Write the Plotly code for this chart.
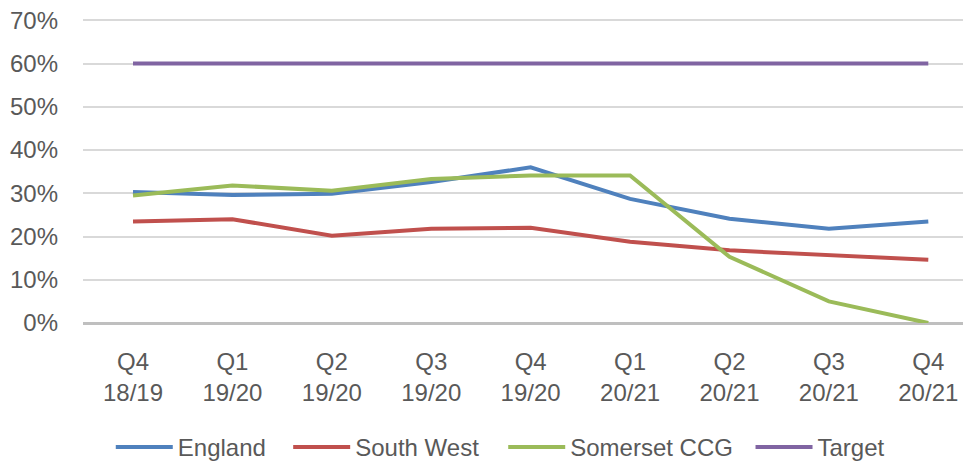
import plotly.graph_objects as go

categories = ["Q4<br>18/19", "Q1<br>19/20", "Q2<br>19/20", "Q3<br>19/20", "Q4<br>19/20",
              "Q1<br>20/21", "Q2<br>20/21", "Q3<br>20/21", "Q4<br>20/21"]
england = [0.303, 0.296, 0.299, 0.326, 0.360, 0.287, 0.241, 0.218, 0.235]
south_west = [0.235, 0.240, 0.202, 0.218, 0.220, 0.188, 0.168, 0.156, 0.146]
somerset = [0.295, 0.318, 0.306, 0.333, 0.341, 0.341, 0.153, 0.050, 0.000]
target = [0.60] * 9
y_ticks = [0, 0.1, 0.2, 0.3, 0.4, 0.5, 0.6, 0.7]

series = [
    ("England", england, "#4F81BD"),
    ("South West", south_west, "#C0504D"),
    ("Somerset CCG", somerset, "#9BBB59"),
    ("Target", target, "#8064A2"),
]
legend_x = [0.031, 0.229, 0.469, 0.745]

x = list(range(len(categories)))
fig = go.Figure()
font = dict(family="Liberation Sans, Arial, sans-serif", size=24, color="#595959")
legend_layout = {}
for i, (name, vals, color) in enumerate(series):
    key = "legend" if i == 0 else f"legend{i+1}"
    fig.add_trace(go.Scatter(x=x, y=vals, name=name, mode="lines", legend=key,
                             line=dict(color=color, width=4)))
    legend_layout[key] = dict(orientation="h", x=legend_x[i], xanchor="left",
                              y=-0.405, yanchor="middle", font=font, itemwidth=57,
                              bgcolor="rgba(0,0,0,0)")

fig.update_layout(
    width=971, height=462,
    margin=dict(l=75, r=0, t=8, b=145),
    paper_bgcolor="white", plot_bgcolor="white",
    font=font,
    showlegend=True,
    **legend_layout,
)
fig.update_xaxes(range=[-0.503, 8.51], tickvals=x, ticktext=categories,
                 showgrid=False, zeroline=False, showline=False,
                 ticks="", ticklabelstandoff=22, tickfont=font)
fig.update_yaxes(range=[0, 0.71], tickvals=y_ticks, tickformat=".0%",
                 showgrid=True, gridcolor="#D9D9D9", gridwidth=2,
                 zeroline=True, zerolinecolor="#BFBFBF", zerolinewidth=2.5,
                 showline=False, ticks="", ticklabelstandoff=24, tickfont=font,
                 ticklabeloverflow="allow")
fig.write_html("out.html")
